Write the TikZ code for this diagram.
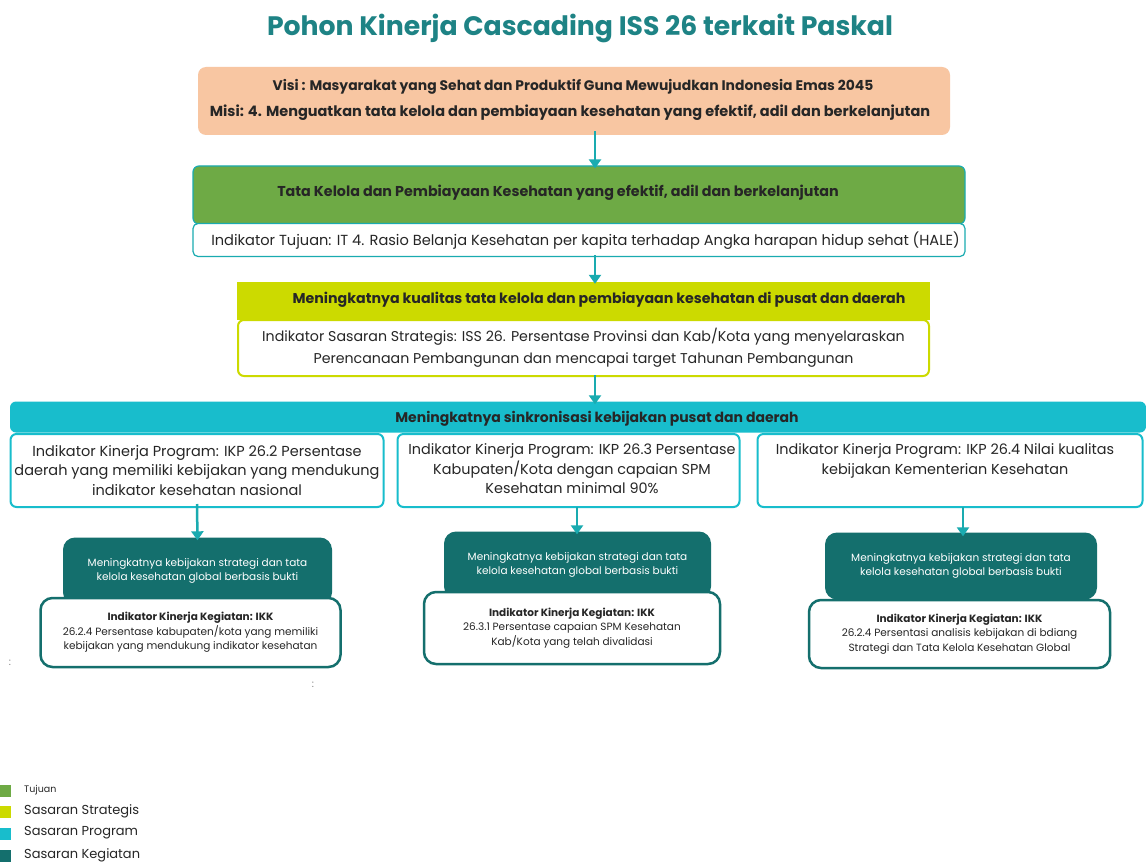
\documentclass[tikz,border=0pt]{standalone}
\usepackage{fontspec}
\setmainfont{Poppins}
\usetikzlibrary{arrows.meta}
\definecolor{titleteal}{HTML}{1E8385}
\definecolor{peach}{HTML}{F8C6A2}
\definecolor{goalgreen}{HTML}{6EAA45}
\definecolor{lime}{HTML}{CCDA00}
\definecolor{cyanbar}{HTML}{18BDCC}
\definecolor{darkteal}{HTML}{146F6D}
\definecolor{arrowteal}{HTML}{1AABB0}
\definecolor{txt}{HTML}{262626}
\tikzset{
  box/.style={rectangle, inner sep=0pt, align=center, text=txt},
  arr/.style={draw=arrowteal, line width=2.5pt, -{Triangle[width=12pt,length=9pt]}},
}
\begin{document}
\begin{tikzpicture}[x=1pt,y=-1pt]
\useasboundingbox (0,0) rectangle (1146,864);
\fill[white] (0,0) rectangle (1146,864);

% title
\node[box, text=titleteal, font=\fontsize{26.7}{32}\selectfont\bfseries] (title) at (580,28) {Pohon Kinerja Cascading ISS 26 terkait Paskal};

% visi
\node[box, fill=peach, rounded corners=8pt, minimum width=752pt, minimum height=68pt] (visi) at (574,101) {};
\node[box, font=\fontsize{13.9}{16}\selectfont\bfseries] (visi1) at (573,87)
  {Visi : Masyarakat yang Sehat dan Produktif Guna Mewujudkan Indonesia Emas 2045};
\node[box, font=\fontsize{14.5}{16}\selectfont\bfseries] (visi2) at (570,113)
  {Misi: 4. Menguatkan tata kelola dan pembiayaan kesehatan yang efektif, adil dan berkelanjutan};

% tujuan
\node[box, fill=goalgreen, draw=arrowteal, line width=1.2pt, rounded corners=6pt,
  minimum width=772pt, minimum height=58pt] (goal) at (579,195) {};
\node[box, font=\fontsize{14.3}{16}\selectfont\bfseries] (goaltxt) at (558,193)
  {Tata Kelola dan Pembiayaan Kesehatan yang efektif, adil dan berkelanjutan};
\node[box, fill=white, draw=arrowteal, line width=1.2pt, rounded corners=5pt,
  minimum width=772pt, minimum height=33pt] (goalind) at (579,240) {};
\node[box, font=\fontsize{14.6}{17}\selectfont] (goalindtxt) at (585.5,241)
  {Indikator Tujuan: IT 4. Rasio Belanja Kesehatan per kapita terhadap Angka harapan hidup sehat (HALE)};

% sasaran strategis
\node[box, fill=lime, minimum width=693pt, minimum height=38pt] (ss) at (583.5,301) {};
\node[box, font=\fontsize{14.2}{16}\selectfont\bfseries] (sstxt) at (599,300)
  {Meningkatnya kualitas tata kelola dan pembiayaan kesehatan di pusat dan daerah};
\node[box, fill=white, draw=lime, line width=2pt, rounded corners=6pt,
  minimum width=691pt, minimum height=56pt, font=\fontsize{14.2}{22}\selectfont] (ssind) at (583.5,348)
  {Indikator Sasaran Strategis: ISS 26. Persentase Provinsi dan Kab/Kota yang menyelaraskan\\
   Perencanaan Pembangunan dan mencapai target Tahunan Pembangunan};

% sasaran program
\node[box, fill=cyanbar, rounded corners=6pt, minimum width=1136pt, minimum height=31pt] (sp) at (578,417) {};
\node[box, font=\fontsize{14}{16}\selectfont\bfseries] (sptxt) at (597,419)
  {Meningkatnya sinkronisasi kebijakan pusat dan daerah};

\node[box, fill=white, draw=cyanbar, line width=2pt, rounded corners=6pt,
  minimum width=373pt, minimum height=73pt, font=\fontsize{14.5}{19.5}\selectfont] (ikpA) at (197,470.5)
  {Indikator Kinerja Program: IKP 26.2 Persentase\\ daerah yang memiliki kebijakan yang mendukung\\ indikator kesehatan nasional};
\node[box, fill=white, draw=cyanbar, line width=2pt, rounded corners=6pt,
  minimum width=342pt, minimum height=73pt] (ikpB) at (568.5,470.5) {};
\node[box, font=\fontsize{14.4}{19.5}\selectfont] (ikpBtxt) at (572,469)
  {Indikator Kinerja Program: IKP 26.3 Persentase\\ Kabupaten/Kota dengan capaian SPM\\ Kesehatan minimal 90\%};
\node[box, fill=white, draw=cyanbar, line width=2pt, rounded corners=6pt,
  minimum width=385pt, minimum height=73pt] (ikpC) at (950,470.5) {};
\node[box, font=\fontsize{14.4}{19.5}\selectfont] (ikpCtxt) at (945,461)
  {Indikator Kinerja Program: IKP 26.4 Nilai kualitas\\ kebijakan Kementerian Kesehatan};

% sasaran kegiatan
\tikzset{
  dark/.style={box, fill=darkteal, text=white, rounded corners=12pt, minimum height=67pt,
     font=\fontsize{10.5}{14.5}\selectfont},
  ikk/.style={box, fill=white, draw=darkteal, line width=2.5pt, rounded corners=12pt,
     minimum width=300pt, minimum height=69pt, font=\fontsize{10.5}{14.5}\selectfont},
}
\node[dark, minimum width=269pt] (skA) at (197.5,571)
  {Meningkatnya kebijakan strategi dan tata\\ kelola kesehatan global berbasis bukti};
\node[ikk] (ikkA) at (190.5,632.5)
  {\textbf{Indikator Kinerja Kegiatan: IKK}\\ 26.2.4 Persentase kabupaten/kota yang memiliki\\ kebijakan yang mendukung indikator kesehatan};

\node[dark, minimum width=267pt] (skB) at (577.5,565)
  {Meningkatnya kebijakan strategi dan tata\\ kelola kesehatan global berbasis bukti};
\node[ikk, minimum width=296pt, minimum height=72pt] (ikkB) at (572,628)
  {\textbf{Indikator Kinerja Kegiatan: IKK}\\ 26.3.1 Persentase capaian SPM Kesehatan\\ Kab/Kota yang telah divalidasi};

\node[dark, minimum width=272pt] (skC) at (961,566)
  {Meningkatnya kebijakan strategi dan tata\\ kelola kesehatan global berbasis bukti};
\node[ikk, minimum width=301pt, minimum height=68pt] (ikkC) at (959.5,634)
  {\textbf{Indikator Kinerja Kegiatan: IKK}\\ 26.2.4 Persentasi analisis kebijakan di bdiang\\ Strategi dan Tata Kelola Kesehatan Global};

% arrows
\draw[arr] ([xshift=21pt,yshift=4pt]visi.south) -- ([xshift=16pt,yshift=-3pt]goal.north);
\draw[arr] ([xshift=16pt,yshift=2pt]goalind.south) -- ([xshift=11.5pt,yshift=-2pt]ss.north);
\draw[arr] ([xshift=11.5pt,yshift=2pt]ssind.south) -- ([xshift=17pt,yshift=-3pt]sp.north);
\draw[arr] ([yshift=4pt]ikpA.south) -- ([yshift=-3pt]skA.north);
\draw[arr] ([xshift=8.5pt,yshift=1pt]ikpB.south) -- ([xshift=-0.5pt,yshift=-3pt]skB.north);
\draw[arr] ([xshift=13pt,yshift=1pt]ikpC.south) -- ([xshift=2pt,yshift=-4pt]skC.north);

% colons
\node[box, text=gray, font=\fontsize{10}{12}\selectfont] (c1) at (10,663) {:};
\node[box, text=gray, font=\fontsize{10}{12}\selectfont] (c2) at (313,685) {:};

% legend
\fill[goalgreen] (0,785) rectangle (11,797);
\fill[lime] (0,806) rectangle (11,818);
\fill[cyanbar] (0,828) rectangle (11,840);
\fill[darkteal] (0,850) rectangle (11,862);
\node[box, anchor=west, font=\fontsize{9.5}{11}\selectfont] (l1) at (24,790) {Tujuan};
\node[box, anchor=west, font=\fontsize{13}{15}\selectfont] (l2) at (24,811) {Sasaran Strategis};
\node[box, anchor=west, font=\fontsize{13}{15}\selectfont] (l3) at (24,833) {Sasaran Program};
\node[box, anchor=west, font=\fontsize{13}{15}\selectfont] (l4) at (24,855) {Sasaran Kegiatan};
\end{tikzpicture}
\end{document}
